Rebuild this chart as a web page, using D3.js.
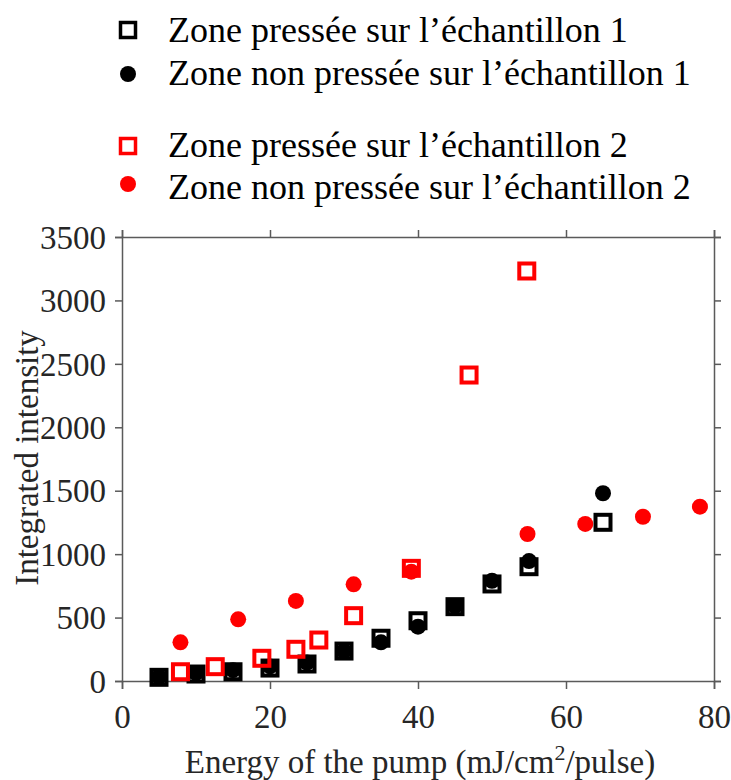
<!DOCTYPE html>
<html><head><meta charset="utf-8">
<script src="https://cdn.jsdelivr.net/npm/d3@7"></script>
<style>body{margin:0;background:#fff}svg{display:block}text{font-family:"Liberation Serif","Times New Roman",serif}</style>
</head><body>
<svg id="c" width="731" height="780"></svg>
<script>
// Sample 1 – pressed zone (black squares)
const s1PressedX = [5, 10, 15, 20, 25, 30, 35, 40, 45, 50, 55, 65];
const s1PressedY = [29, 55, 73, 102, 134, 236, 337, 475, 586, 765, 901, 1251];
// Sample 1 – non-pressed zone (black circles)
const s1NonPressedX = [5, 10, 15, 20, 25, 30, 35, 40, 45, 50, 55, 65];
const s1NonPressedY = [30, 62, 85, 115, 145, 236, 305, 428, 590, 790, 945, 1480];
// Sample 2 – pressed zone (red squares)
const s2PressedX = [7.9, 12.6, 18.9, 23.5, 26.6, 31.3, 39.1, 46.9, 54.7];
const s2PressedY = [73, 113, 179, 250, 323, 515, 888, 2412, 3232];
// Sample 2 – non-pressed zone (red circles)
const s2NonPressedX = [7.9, 15.7, 23.5, 31.3, 39.1, 54.8, 62.6, 70.4, 78.1];
const s2NonPressedY = [305, 486, 631, 762, 862, 1159, 1238, 1295, 1374];

const xTicks = [0, 20, 40, 60, 80];
const yTicks = [0, 500, 1000, 1500, 2000, 2500, 3000, 3500];
const legendLabels = [
  "Zone pressée sur l’échantillon 1",
  "Zone non pressée sur l’échantillon 1",
  "Zone pressée sur l’échantillon 2",
  "Zone non pressée sur l’échantillon 2"
];
const xTitle = "Energy of the pump (mJ/cm";
const yTitle = "Integrated intensity";

const svg = d3.select("#c");
const L = 122, R = 714, T = 237, B = 681;
const x = d3.scaleLinear().domain([0, 80]).range([L, R]);
const y = d3.scaleLinear().domain([0, 3500]).range([B, T]);
const axisCol = "#5a5a5a", textCol = "#262626";
const serif = '"Liberation Serif","Times New Roman",serif';

const fs = 33;
const gx = svg.append("g").attr("transform", `translate(0,${B})`)
  .call(d3.axisBottom(x).tickValues(xTicks).tickSize(8).tickPadding(16).tickFormat(d3.format("d")));
const gt = svg.append("g").attr("transform", `translate(0,${T})`)
  .call(d3.axisTop(x).tickValues(xTicks).tickSize(7).tickFormat(""));
const gy = svg.append("g").attr("transform", `translate(${L},0)`)
  .call(d3.axisLeft(y).tickValues(yTicks).tickSize(7).tickPadding(9).tickFormat(d3.format("d")));
const gr = svg.append("g").attr("transform", `translate(${R},0)`)
  .call(d3.axisRight(y).tickValues(yTicks).tickSize(7).tickFormat(""));
[gx, gt, gy, gr].forEach(g => {
  g.select(".domain").attr("stroke", axisCol).attr("stroke-width", 1.5);
  g.selectAll(".tick line").attr("stroke", axisCol).attr("stroke-width", 1.5);
  g.selectAll(".tick text").attr("fill", textCol).style("font-size", fs + "px")
    .style("font-family", serif);
});
gy.selectAll(".tick text").attr("dy", "0.34em");

// titles
const xt = svg.append("text").attr("x", 420).attr("y", 773).attr("text-anchor", "middle")
  .attr("fill", textCol).style("font-size", fs + "px");
xt.append("tspan").text(xTitle);
xt.append("tspan").text("2").attr("dy", -13).style("font-size", "22px");
xt.append("tspan").text("/pulse)").attr("dy", 13);
svg.append("text").attr("transform", "translate(38,458) rotate(-90)").attr("text-anchor", "middle")
  .attr("fill", textCol).style("font-size", fs + "px").text(yTitle);

// markers
const plot = svg.append("g");
function squares(xs, ys, col) {
  plot.selectAll(null).data(d3.zip(xs, ys)).join("rect")
    .attr("x", d => x(d[0]) - 7.5).attr("y", d => y(d[1]) - 7.5)
    .attr("width", 15).attr("height", 15)
    .attr("fill", "none").attr("stroke", col).attr("stroke-width", 4);
}
function circles(xs, ys, col) {
  plot.selectAll(null).data(d3.zip(xs, ys)).join("circle")
    .attr("cx", d => x(d[0])).attr("cy", d => y(d[1])).attr("r", 8).attr("fill", col);
}
squares(s1PressedX, s1PressedY, "#000");
circles(s1NonPressedX, s1NonPressedY, "#000");
squares(s2PressedX, s2PressedY, "#ff0000");
circles(s2NonPressedX, s2NonPressedY, "#ff0000");

// legend
const legRows = [
  {y: 30, type: "sq", col: "#000"},
  {y: 74, type: "ci", col: "#000"},
  {y: 146, type: "sq", col: "#ff0000"},
  {y: 184, type: "ci", col: "#ff0000"}
];
const legText = [30, 73, 145, 187];
const leg = svg.append("g");
legRows.forEach((r, i) => {
  if (r.type === "sq") {
    leg.append("rect").attr("x", 128 - 7.5).attr("y", r.y - 7.5).attr("width", 15).attr("height", 15)
      .attr("fill", "none").attr("stroke", r.col).attr("stroke-width", 3.5);
  } else {
    leg.append("circle").attr("cx", 128).attr("cy", r.y).attr("r", 8).attr("fill", r.col);
  }
  leg.append("text").attr("x", 168).attr("y", legText[i] + 12).attr("fill", "#000")
    .style("font-size", "36px").text(legendLabels[i]);
});
</script>
</body></html>
